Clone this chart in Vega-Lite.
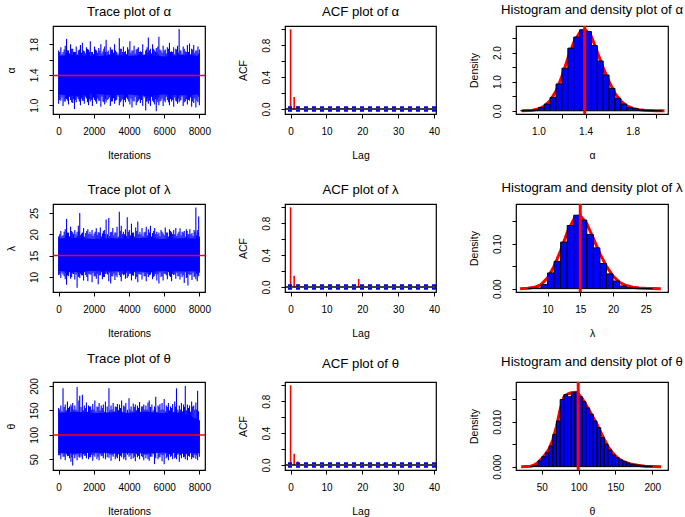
{
  "$schema": "https://vega.github.io/schema/vega-lite/v6.json",
  "padding": {"left": 5, "top": 1, "right": 5, "bottom": 5},
  "background": "white",
  "bounds": "flush",
  "columns": 3,
  "spacing": {"row": 90, "column": 80},
  "config": {
    "font": "Liberation Sans",
    "view": {"stroke": "black", "strokeWidth": 1.2},
    "title": {"fontSize": 13.2, "fontWeight": "normal", "anchor": "middle", "frame": "group", "baseline": "bottom", "offset": 7, "color": "black"},
    "axis": {"domain": false, "grid": false, "tickColor": "black", "tickSize": 4, "tickWidth": 1, "labelColor": "black", "labelFontSize": 10, "titleFontSize": 10.5, "titleFontWeight": "normal", "titleColor": "black", "labelFlush": false, "labelOverlap": false},
    "axisX": {"labelPadding": 8, "titlePadding": 14},
    "axisY": {"labelAngle": -90, "labelAlign": "center", "labelBaseline": "bottom", "labelPadding": 10, "titlePadding": 13}
  },
  "datasets": {
    "one": [{"k": 1}],
    "coreA": [{"it":0,"lo":1.14,"hi":1.65},{"it":1000,"lo":1.12,"hi":1.66},{"it":2000,"lo":1.15,"hi":1.64},{"it":3000,"lo":1.13,"hi":1.66},{"it":4000,"lo":1.14,"hi":1.65},{"it":5000,"lo":1.12,"hi":1.66},{"it":6000,"lo":1.14,"hi":1.64},{"it":7000,"lo":1.13,"hi":1.66},{"it":8000,"lo":1.14,"hi":1.65}],
    "spikeA": [
      {"it":0,"lo":1.02,"hi":1.72},{"it":125,"lo":1.06,"hi":1.76},{"it":250,"lo":0.99,"hi":1.70},{"it":375,"lo":1.05,"hi":1.78},{"it":450,"lo":1.08,"hi":1.87},{"it":560,"lo":1.01,"hi":1.72},{"it":680,"lo":1.07,"hi":1.80},{"it":800,"lo":1.03,"hi":1.74},{"it":900,"lo":0.95,"hi":1.70},{"it":1000,"lo":1.04,"hi":1.77},{"it":1120,"lo":1.08,"hi":1.72},{"it":1240,"lo":1.00,"hi":1.79},{"it":1350,"lo":1.06,"hi":1.82},{"it":1460,"lo":1.02,"hi":1.71},{"it":1580,"lo":1.09,"hi":1.76},{"it":1700,"lo":1.00,"hi":1.73},{"it":1800,"lo":1.05,"hi":1.84},{"it":1920,"lo":0.99,"hi":1.70},{"it":2040,"lo":1.07,"hi":1.77},{"it":2160,"lo":1.02,"hi":1.72},{"it":2280,"lo":1.06,"hi":1.75},{"it":2400,"lo":0.98,"hi":1.80},{"it":2520,"lo":1.05,"hi":1.71},{"it":2620,"lo":1.01,"hi":1.77},{"it":2700,"lo":1.04,"hi":1.86},{"it":2820,"lo":1.08,"hi":1.72},{"it":2940,"lo":0.99,"hi":1.76},{"it":3060,"lo":1.05,"hi":1.73},{"it":3180,"lo":1.02,"hi":1.80},{"it":3300,"lo":1.07,"hi":1.70},{"it":3450,"lo":1.00,"hi":1.88},{"it":3560,"lo":1.06,"hi":1.74},{"it":3680,"lo":0.98,"hi":1.77},{"it":3800,"lo":1.04,"hi":1.71},{"it":3920,"lo":1.08,"hi":1.76},{"it":4050,"lo":1.01,"hi":1.84},{"it":4170,"lo":0.97,"hi":1.72},{"it":4290,"lo":1.05,"hi":1.78},{"it":4410,"lo":1.00,"hi":1.73},{"it":4530,"lo":1.06,"hi":1.76},{"it":4650,"lo":1.03,"hi":1.71},{"it":4780,"lo":0.99,"hi":1.80},{"it":4950,"lo":0.93,"hi":1.72},{"it":5030,"lo":1.05,"hi":1.76},{"it":5100,"lo":1.02,"hi":1.89},{"it":5220,"lo":0.99,"hi":1.74},{"it":5340,"lo":1.06,"hi":1.80},{"it":5460,"lo":1.01,"hi":1.72},{"it":5550,"lo":0.92,"hi":1.75},{"it":5640,"lo":1.04,"hi":1.77},{"it":5700,"lo":1.00,"hi":1.90},{"it":5820,"lo":1.06,"hi":1.72},{"it":5940,"lo":0.99,"hi":1.78},{"it":6060,"lo":1.04,"hi":1.73},{"it":6180,"lo":1.07,"hi":1.76},{"it":6300,"lo":1.00,"hi":1.82},{"it":6420,"lo":1.05,"hi":1.71},{"it":6540,"lo":0.98,"hi":1.76},{"it":6660,"lo":1.06,"hi":1.74},{"it":6760,"lo":1.02,"hi":1.78},{"it":6850,"lo":1.04,"hi":2.00},{"it":6950,"lo":1.07,"hi":1.72},{"it":7080,"lo":0.99,"hi":1.77},{"it":7200,"lo":1.05,"hi":1.71},{"it":7320,"lo":1.01,"hi":1.79},{"it":7440,"lo":1.06,"hi":1.81},{"it":7560,"lo":0.98,"hi":1.74},{"it":7680,"lo":1.03,"hi":1.79},{"it":7800,"lo":0.97,"hi":1.72},{"it":7920,"lo":1.04,"hi":1.77},{"it":8000,"lo":1.00,"hi":1.73},
      {"it":60,"lo":1.07,"hi":1.70},{"it":190,"lo":1.10,"hi":1.67},{"it":315,"lo":1.05,"hi":1.73},{"it":410,"lo":1.09,"hi":1.69},{"it":505,"lo":1.06,"hi":1.72},{"it":620,"lo":1.11,"hi":1.68},{"it":740,"lo":1.04,"hi":1.74},{"it":850,"lo":1.08,"hi":1.70},{"it":950,"lo":1.07,"hi":1.70},{"it":1060,"lo":1.10,"hi":1.67},{"it":1180,"lo":1.05,"hi":1.73},{"it":1295,"lo":1.09,"hi":1.69},{"it":1405,"lo":1.06,"hi":1.72},{"it":1520,"lo":1.11,"hi":1.68},{"it":1640,"lo":1.04,"hi":1.74},{"it":1750,"lo":1.08,"hi":1.70},{"it":1860,"lo":1.07,"hi":1.70},{"it":1980,"lo":1.10,"hi":1.67},{"it":2100,"lo":1.05,"hi":1.73},{"it":2220,"lo":1.09,"hi":1.69},{"it":2340,"lo":1.06,"hi":1.72},{"it":2460,"lo":1.11,"hi":1.68},{"it":2570,"lo":1.04,"hi":1.74},{"it":2660,"lo":1.08,"hi":1.70},{"it":2760,"lo":1.07,"hi":1.70},{"it":2880,"lo":1.10,"hi":1.67},{"it":3000,"lo":1.05,"hi":1.73},{"it":3120,"lo":1.09,"hi":1.69},{"it":3240,"lo":1.06,"hi":1.72},{"it":3375,"lo":1.11,"hi":1.68},{"it":3505,"lo":1.04,"hi":1.74},{"it":3620,"lo":1.08,"hi":1.70},{"it":3740,"lo":1.07,"hi":1.70},{"it":3860,"lo":1.10,"hi":1.67},{"it":3985,"lo":1.05,"hi":1.73},{"it":4110,"lo":1.09,"hi":1.69},{"it":4230,"lo":1.06,"hi":1.72},{"it":4350,"lo":1.11,"hi":1.68},{"it":4470,"lo":1.04,"hi":1.74},{"it":4590,"lo":1.08,"hi":1.70},{"it":4715,"lo":1.07,"hi":1.70},{"it":4865,"lo":1.10,"hi":1.67},{"it":4990,"lo":1.05,"hi":1.73},{"it":5065,"lo":1.09,"hi":1.69},{"it":5160,"lo":1.06,"hi":1.72},{"it":5280,"lo":1.11,"hi":1.68},{"it":5400,"lo":1.04,"hi":1.74},{"it":5505,"lo":1.08,"hi":1.70},{"it":5595,"lo":1.07,"hi":1.70},{"it":5670,"lo":1.10,"hi":1.67},{"it":5760,"lo":1.05,"hi":1.73},{"it":5880,"lo":1.09,"hi":1.69},{"it":6000,"lo":1.06,"hi":1.72},{"it":6120,"lo":1.11,"hi":1.68},{"it":6240,"lo":1.04,"hi":1.74},{"it":6360,"lo":1.08,"hi":1.70},{"it":6480,"lo":1.07,"hi":1.70},{"it":6600,"lo":1.10,"hi":1.67},{"it":6710,"lo":1.05,"hi":1.73},{"it":6805,"lo":1.09,"hi":1.69},{"it":6900,"lo":1.06,"hi":1.72},{"it":7015,"lo":1.11,"hi":1.68},{"it":7140,"lo":1.04,"hi":1.74},{"it":7260,"lo":1.08,"hi":1.70},{"it":7380,"lo":1.07,"hi":1.70},{"it":7500,"lo":1.10,"hi":1.67},{"it":7620,"lo":1.05,"hi":1.73},{"it":7740,"lo":1.09,"hi":1.69},{"it":7860,"lo":1.06,"hi":1.72},{"it":7960,"lo":1.11,"hi":1.68}
    ],
    "coreL": [{"it":0,"lo":11.4,"hi":19.0},{"it":1000,"lo":11.2,"hi":19.2},{"it":2000,"lo":11.5,"hi":18.9},{"it":3000,"lo":11.3,"hi":19.1},{"it":4000,"lo":11.4,"hi":19.0},{"it":5000,"lo":11.2,"hi":19.2},{"it":6000,"lo":11.4,"hi":18.9},{"it":7000,"lo":11.3,"hi":19.1},{"it":8000,"lo":11.4,"hi":19.0}],
    "spikeL": [
      {"it":0,"lo":10.5,"hi":19.5},{"it":125,"lo":9.8,"hi":20.8},{"it":250,"lo":10.6,"hi":19.8},{"it":375,"lo":9.5,"hi":21.2},{"it":450,"lo":8.2,"hi":23.6},{"it":560,"lo":10.2,"hi":20.4},{"it":680,"lo":9.6,"hi":21.8},{"it":800,"lo":10.8,"hi":20.5},{"it":920,"lo":9.4,"hi":21.0},{"it":1050,"lo":7.5,"hi":20.6},{"it":1120,"lo":10.0,"hi":22.0},{"it":1200,"lo":9.8,"hi":25.0},{"it":1300,"lo":10.4,"hi":20.2},{"it":1420,"lo":9.2,"hi":21.5},{"it":1540,"lo":10.5,"hi":20.3},{"it":1660,"lo":9.0,"hi":21.2},{"it":1780,"lo":10.6,"hi":20.6},{"it":1900,"lo":8.8,"hi":21.0},{"it":2020,"lo":10.2,"hi":20.2},{"it":2140,"lo":9.6,"hi":21.4},{"it":2250,"lo":8.3,"hi":20.5},{"it":2370,"lo":10.4,"hi":21.6},{"it":2490,"lo":9.5,"hi":20.2},{"it":2600,"lo":10.0,"hi":21.0},{"it":2700,"lo":10.8,"hi":23.5},{"it":2850,"lo":9.0,"hi":23.8},{"it":2960,"lo":8.5,"hi":20.5},{"it":3080,"lo":10.2,"hi":21.5},{"it":3200,"lo":9.3,"hi":20.4},{"it":3320,"lo":10.0,"hi":21.8},{"it":3450,"lo":10.5,"hi":25.3},{"it":3560,"lo":9.0,"hi":22.0},{"it":3680,"lo":10.4,"hi":20.6},{"it":3800,"lo":9.6,"hi":21.2},{"it":3900,"lo":9.8,"hi":24.0},{"it":4020,"lo":10.8,"hi":21.0},{"it":4140,"lo":9.2,"hi":22.5},{"it":4260,"lo":10.3,"hi":20.4},{"it":4380,"lo":9.5,"hi":21.6},{"it":4500,"lo":8.8,"hi":23.0},{"it":4620,"lo":10.6,"hi":20.6},{"it":4740,"lo":9.4,"hi":21.5},{"it":4860,"lo":10.2,"hi":20.4},{"it":4980,"lo":9.0,"hi":21.8},{"it":5100,"lo":10.0,"hi":21.2},{"it":5220,"lo":10.6,"hi":22.0},{"it":5340,"lo":9.5,"hi":20.3},{"it":5460,"lo":10.3,"hi":21.5},{"it":5580,"lo":9.2,"hi":20.6},{"it":5700,"lo":8.5,"hi":20.4},{"it":5820,"lo":10.0,"hi":21.0},{"it":5940,"lo":9.2,"hi":20.2},{"it":6060,"lo":10.7,"hi":21.6},{"it":6180,"lo":9.5,"hi":20.4},{"it":6300,"lo":10.3,"hi":21.2},{"it":6420,"lo":9.0,"hi":20.5},{"it":6540,"lo":10.5,"hi":21.0},{"it":6660,"lo":9.6,"hi":21.5},{"it":6780,"lo":10.2,"hi":20.2},{"it":6900,"lo":9.4,"hi":21.4},{"it":7020,"lo":10.0,"hi":20.6},{"it":7140,"lo":8.6,"hi":20.8},{"it":7260,"lo":9.8,"hi":21.2},{"it":7350,"lo":8.0,"hi":20.0},{"it":7460,"lo":10.4,"hi":21.2},{"it":7580,"lo":9.3,"hi":20.3},{"it":7700,"lo":10.0,"hi":21.0},{"it":7800,"lo":9.5,"hi":26.3},{"it":7880,"lo":9.0,"hi":21.0},{"it":7960,"lo":10.2,"hi":24.2},{"it":8000,"lo":11.0,"hi":19.5},
      {"it":60,"lo":10.6,"hi":20.0},{"it":190,"lo":11.0,"hi":19.6},{"it":315,"lo":10.2,"hi":20.6},{"it":410,"lo":10.8,"hi":19.8},{"it":505,"lo":10.4,"hi":20.4},{"it":620,"lo":11.1,"hi":19.5},{"it":740,"lo":10.0,"hi":20.8},{"it":850,"lo":10.7,"hi":20.1},{"it":985,"lo":10.6,"hi":20.0},{"it":1085,"lo":11.0,"hi":19.6},{"it":1160,"lo":10.2,"hi":20.6},{"it":1250,"lo":10.8,"hi":19.8},{"it":1360,"lo":10.4,"hi":20.4},{"it":1480,"lo":11.1,"hi":19.5},{"it":1600,"lo":10.0,"hi":20.8},{"it":1720,"lo":10.7,"hi":20.1},{"it":1840,"lo":10.6,"hi":20.0},{"it":1960,"lo":11.0,"hi":19.6},{"it":2080,"lo":10.2,"hi":20.6},{"it":2195,"lo":10.8,"hi":19.8},{"it":2310,"lo":10.4,"hi":20.4},{"it":2430,"lo":11.1,"hi":19.5},{"it":2545,"lo":10.0,"hi":20.8},{"it":2650,"lo":10.7,"hi":20.1},{"it":2775,"lo":10.6,"hi":20.0},{"it":2905,"lo":11.0,"hi":19.6},{"it":3020,"lo":10.2,"hi":20.6},{"it":3140,"lo":10.8,"hi":19.8},{"it":3260,"lo":10.4,"hi":20.4},{"it":3385,"lo":11.1,"hi":19.5},{"it":3505,"lo":10.0,"hi":20.8},{"it":3620,"lo":10.7,"hi":20.1},{"it":3740,"lo":10.6,"hi":20.0},{"it":3850,"lo":11.0,"hi":19.6},{"it":3960,"lo":10.2,"hi":20.6},{"it":4080,"lo":10.8,"hi":19.8},{"it":4200,"lo":10.4,"hi":20.4},{"it":4320,"lo":11.1,"hi":19.5},{"it":4440,"lo":10.0,"hi":20.8},{"it":4560,"lo":10.7,"hi":20.1},{"it":4680,"lo":10.6,"hi":20.0},{"it":4800,"lo":11.0,"hi":19.6},{"it":4920,"lo":10.2,"hi":20.6},{"it":5040,"lo":10.8,"hi":19.8},{"it":5160,"lo":10.4,"hi":20.4},{"it":5280,"lo":11.1,"hi":19.5},{"it":5400,"lo":10.0,"hi":20.8},{"it":5520,"lo":10.7,"hi":20.1},{"it":5640,"lo":10.6,"hi":20.0},{"it":5760,"lo":11.0,"hi":19.6},{"it":5880,"lo":10.2,"hi":20.6},{"it":6000,"lo":10.8,"hi":19.8},{"it":6120,"lo":10.4,"hi":20.4},{"it":6240,"lo":11.1,"hi":19.5},{"it":6360,"lo":10.0,"hi":20.8},{"it":6480,"lo":10.7,"hi":20.1},{"it":6600,"lo":10.6,"hi":20.0},{"it":6720,"lo":11.0,"hi":19.6},{"it":6840,"lo":10.2,"hi":20.6},{"it":6960,"lo":10.8,"hi":19.8},{"it":7080,"lo":10.4,"hi":20.4},{"it":7200,"lo":11.1,"hi":19.5},{"it":7305,"lo":10.0,"hi":20.8},{"it":7405,"lo":10.7,"hi":20.1},{"it":7520,"lo":10.6,"hi":20.0},{"it":7640,"lo":11.0,"hi":19.6},{"it":7750,"lo":10.2,"hi":20.6},{"it":7840,"lo":10.8,"hi":19.8},{"it":7920,"lo":10.4,"hi":20.4}
    ],
    "coreT": [{"it":0,"lo":63,"hi":145},{"it":1000,"lo":62,"hi":147},{"it":2000,"lo":64,"hi":144},{"it":3000,"lo":62,"hi":146},{"it":4000,"lo":63,"hi":145},{"it":5000,"lo":62,"hi":147},{"it":6000,"lo":64,"hi":144},{"it":7000,"lo":62,"hi":146},{"it":8000,"lo":63,"hi":130}],
    "spikeT": [
      {"it":0,"lo":58,"hi":155},{"it":125,"lo":50,"hi":160},{"it":250,"lo":55,"hi":195},{"it":375,"lo":48,"hi":162},{"it":500,"lo":56,"hi":168},{"it":620,"lo":52,"hi":158},{"it":700,"lo":45,"hi":162},{"it":800,"lo":37,"hi":165},{"it":920,"lo":52,"hi":160},{"it":1050,"lo":48,"hi":198},{"it":1150,"lo":55,"hi":170},{"it":1200,"lo":53,"hi":180},{"it":1350,"lo":50,"hi":182},{"it":1460,"lo":57,"hi":160},{"it":1580,"lo":52,"hi":166},{"it":1700,"lo":50,"hi":160},{"it":1820,"lo":54,"hi":158},{"it":1940,"lo":47,"hi":163},{"it":2060,"lo":55,"hi":170},{"it":2180,"lo":50,"hi":158},{"it":2300,"lo":48,"hi":165},{"it":2420,"lo":56,"hi":160},{"it":2540,"lo":52,"hi":162},{"it":2660,"lo":50,"hi":168},{"it":2860,"lo":53,"hi":195},{"it":2980,"lo":47,"hi":160},{"it":3100,"lo":55,"hi":165},{"it":3220,"lo":50,"hi":158},{"it":3340,"lo":52,"hi":163},{"it":3460,"lo":46,"hi":162},{"it":3580,"lo":54,"hi":170},{"it":3700,"lo":50,"hi":160},{"it":3820,"lo":48,"hi":165},{"it":4000,"lo":55,"hi":175},{"it":4120,"lo":50,"hi":158},{"it":4240,"lo":52,"hi":164},{"it":4360,"lo":46,"hi":162},{"it":4480,"lo":54,"hi":160},{"it":4600,"lo":50,"hi":167},{"it":4720,"lo":56,"hi":158},{"it":4840,"lo":48,"hi":162},{"it":4960,"lo":52,"hi":160},{"it":5080,"lo":50,"hi":166},{"it":5150,"lo":47,"hi":170},{"it":5300,"lo":55,"hi":162},{"it":5450,"lo":40,"hi":158},{"it":5520,"lo":52,"hi":178},{"it":5650,"lo":50,"hi":160},{"it":5760,"lo":54,"hi":163},{"it":5880,"lo":46,"hi":165},{"it":6000,"lo":40,"hi":173},{"it":6120,"lo":52,"hi":160},{"it":6240,"lo":48,"hi":165},{"it":6360,"lo":55,"hi":158},{"it":6480,"lo":50,"hi":163},{"it":6600,"lo":52,"hi":168},{"it":6700,"lo":50,"hi":195},{"it":6860,"lo":45,"hi":160},{"it":6980,"lo":52,"hi":165},{"it":7100,"lo":54,"hi":162},{"it":7200,"lo":50,"hi":200},{"it":7320,"lo":48,"hi":162},{"it":7440,"lo":55,"hi":160},{"it":7560,"lo":50,"hi":168},{"it":7680,"lo":53,"hi":160},{"it":7800,"lo":51,"hi":166},{"it":7900,"lo":48,"hi":190},{"it":8000,"lo":55,"hi":130},
      {"it":60,"lo":58,"hi":152},{"it":190,"lo":62,"hi":148},{"it":315,"lo":55,"hi":157},{"it":440,"lo":60,"hi":150},{"it":560,"lo":57,"hi":155},{"it":660,"lo":63,"hi":147},{"it":750,"lo":54,"hi":158},{"it":860,"lo":59,"hi":151},{"it":985,"lo":58,"hi":152},{"it":1100,"lo":62,"hi":148},{"it":1275,"lo":55,"hi":157},{"it":1405,"lo":60,"hi":150},{"it":1520,"lo":57,"hi":155},{"it":1640,"lo":63,"hi":147},{"it":1760,"lo":54,"hi":158},{"it":1880,"lo":59,"hi":151},{"it":2000,"lo":58,"hi":152},{"it":2120,"lo":62,"hi":148},{"it":2240,"lo":55,"hi":157},{"it":2360,"lo":60,"hi":150},{"it":2480,"lo":57,"hi":155},{"it":2600,"lo":63,"hi":147},{"it":2760,"lo":54,"hi":158},{"it":2920,"lo":59,"hi":151},{"it":3040,"lo":58,"hi":152},{"it":3160,"lo":62,"hi":148},{"it":3280,"lo":55,"hi":157},{"it":3400,"lo":60,"hi":150},{"it":3520,"lo":57,"hi":155},{"it":3640,"lo":63,"hi":147},{"it":3760,"lo":54,"hi":158},{"it":3910,"lo":59,"hi":151},{"it":4060,"lo":58,"hi":152},{"it":4180,"lo":62,"hi":148},{"it":4300,"lo":55,"hi":157},{"it":4420,"lo":60,"hi":150},{"it":4540,"lo":57,"hi":155},{"it":4660,"lo":63,"hi":147},{"it":4780,"lo":54,"hi":158},{"it":4900,"lo":59,"hi":151},{"it":5020,"lo":58,"hi":152},{"it":5115,"lo":62,"hi":148},{"it":5225,"lo":55,"hi":157},{"it":5375,"lo":60,"hi":150},{"it":5485,"lo":57,"hi":155},{"it":5585,"lo":63,"hi":147},{"it":5705,"lo":54,"hi":158},{"it":5820,"lo":59,"hi":151},{"it":5940,"lo":58,"hi":152},{"it":6060,"lo":62,"hi":148},{"it":6180,"lo":55,"hi":157},{"it":6300,"lo":60,"hi":150},{"it":6420,"lo":57,"hi":155},{"it":6540,"lo":63,"hi":147},{"it":6650,"lo":54,"hi":158},{"it":6780,"lo":59,"hi":151},{"it":6920,"lo":58,"hi":152},{"it":7040,"lo":62,"hi":148},{"it":7150,"lo":55,"hi":157},{"it":7260,"lo":60,"hi":150},{"it":7380,"lo":57,"hi":155},{"it":7500,"lo":63,"hi":147},{"it":7620,"lo":54,"hi":158},{"it":7740,"lo":59,"hi":151},{"it":7850,"lo":58,"hi":152},{"it":7950,"lo":62,"hi":148}
    ],
    "acfA": [
      {"lag":0,"acf":1},{"lag":1,"acf":0.15},{"lag":2,"acf":0.035},{"lag":3,"acf":0.005},{"lag":4,"acf":-0.005},{"lag":5,"acf":0.003},{"lag":6,"acf":-0.004},{"lag":7,"acf":0.002},{"lag":8,"acf":0.006},{"lag":9,"acf":-0.003},{"lag":10,"acf":0.004},{"lag":11,"acf":-0.008},{"lag":12,"acf":-0.01},{"lag":13,"acf":0.002},{"lag":14,"acf":0.005},{"lag":15,"acf":0.01},{"lag":16,"acf":0.018},{"lag":17,"acf":0.004},{"lag":18,"acf":-0.003},{"lag":19,"acf":0.002},{"lag":20,"acf":-0.005},{"lag":21,"acf":0.003},{"lag":22,"acf":0.006},{"lag":23,"acf":-0.004},{"lag":24,"acf":0.002},{"lag":25,"acf":-0.002},{"lag":26,"acf":0.004},{"lag":27,"acf":0.003},{"lag":28,"acf":-0.005},{"lag":29,"acf":0.006},{"lag":30,"acf":0.002},{"lag":31,"acf":-0.003},{"lag":32,"acf":0.004},{"lag":33,"acf":-0.002},{"lag":34,"acf":0.005},{"lag":35,"acf":-0.004},{"lag":36,"acf":0.003},{"lag":37,"acf":-0.002},{"lag":38,"acf":0.002},{"lag":39,"acf":-0.008}
    ],
    "acfL": [
      {"lag":0,"acf":1},{"lag":1,"acf":0.14},{"lag":2,"acf":0.03},{"lag":3,"acf":0.005},{"lag":4,"acf":-0.004},{"lag":5,"acf":0.003},{"lag":6,"acf":0.002},{"lag":7,"acf":-0.005},{"lag":8,"acf":0.004},{"lag":9,"acf":0.002},{"lag":10,"acf":-0.003},{"lag":11,"acf":0.005},{"lag":12,"acf":0.002},{"lag":13,"acf":-0.004},{"lag":14,"acf":0.003},{"lag":15,"acf":0.002},{"lag":16,"acf":-0.002},{"lag":17,"acf":0.004},{"lag":18,"acf":0.003},{"lag":19,"acf":0.1},{"lag":20,"acf":0.005},{"lag":21,"acf":-0.003},{"lag":22,"acf":0.002},{"lag":23,"acf":0.004},{"lag":24,"acf":-0.002},{"lag":25,"acf":0.003},{"lag":26,"acf":0.002},{"lag":27,"acf":-0.004},{"lag":28,"acf":0.003},{"lag":29,"acf":0.002},{"lag":30,"acf":-0.003},{"lag":31,"acf":0.004},{"lag":32,"acf":0.002},{"lag":33,"acf":-0.002},{"lag":34,"acf":0.003},{"lag":35,"acf":-0.012},{"lag":36,"acf":0.002},{"lag":37,"acf":0.003},{"lag":38,"acf":-0.002},{"lag":39,"acf":0.002}
    ],
    "acfT": [
      {"lag":0,"acf":1},{"lag":1,"acf":0.14},{"lag":2,"acf":0.045},{"lag":3,"acf":0.008},{"lag":4,"acf":-0.004},{"lag":5,"acf":0.003},{"lag":6,"acf":-0.005},{"lag":7,"acf":0.002},{"lag":8,"acf":0.004},{"lag":9,"acf":-0.003},{"lag":10,"acf":0.002},{"lag":11,"acf":0.003},{"lag":12,"acf":-0.002},{"lag":13,"acf":0.004},{"lag":14,"acf":0.002},{"lag":15,"acf":-0.003},{"lag":16,"acf":0.003},{"lag":17,"acf":0.002},{"lag":18,"acf":-0.002},{"lag":19,"acf":0.004},{"lag":20,"acf":0.002},{"lag":21,"acf":-0.003},{"lag":22,"acf":0.003},{"lag":23,"acf":0.006},{"lag":24,"acf":-0.002},{"lag":25,"acf":0.004},{"lag":26,"acf":0.02},{"lag":27,"acf":0.003},{"lag":28,"acf":-0.002},{"lag":29,"acf":0.004},{"lag":30,"acf":0.002},{"lag":31,"acf":-0.006},{"lag":32,"acf":0.003},{"lag":33,"acf":0.002},{"lag":34,"acf":-0.003},{"lag":35,"acf":0.004},{"lag":36,"acf":0.002},{"lag":37,"acf":-0.002},{"lag":38,"acf":0.003},{"lag":39,"acf":0.002}
    ],
    "histA": [
      {"x0":0.85,"x1":0.90,"d":0.004},{"x0":0.90,"x1":0.95,"d":0.01},{"x0":0.95,"x1":1.00,"d":0.03},{"x0":1.00,"x1":1.05,"d":0.11},{"x0":1.05,"x1":1.10,"d":0.23},{"x0":1.10,"x1":1.15,"d":0.46},{"x0":1.15,"x1":1.20,"d":0.92},{"x0":1.20,"x1":1.25,"d":1.46},{"x0":1.25,"x1":1.30,"d":2.15},{"x0":1.30,"x1":1.35,"d":2.53},{"x0":1.35,"x1":1.40,"d":2.78},{"x0":1.40,"x1":1.45,"d":2.72},{"x0":1.45,"x1":1.50,"d":2.24},{"x0":1.50,"x1":1.55,"d":1.71},{"x0":1.55,"x1":1.60,"d":1.23},{"x0":1.60,"x1":1.65,"d":0.77},{"x0":1.65,"x1":1.70,"d":0.43},{"x0":1.70,"x1":1.75,"d":0.23},{"x0":1.75,"x1":1.80,"d":0.11},{"x0":1.80,"x1":1.85,"d":0.07},{"x0":1.85,"x1":1.90,"d":0.03},{"x0":1.90,"x1":1.95,"d":0.015},{"x0":1.95,"x1":2.00,"d":0.006},{"x0":2.00,"x1":2.05,"d":0.003}
    ],
    "densA": [
      {"x":0.86,"d":0.0},{"x":0.95,"d":0.02},{"x":1.0,"d":0.06},{"x":1.05,"d":0.16},{"x":1.1,"d":0.35},{"x":1.15,"d":0.68},{"x":1.2,"d":1.18},{"x":1.25,"d":1.8},{"x":1.3,"d":2.35},{"x":1.35,"d":2.68},{"x":1.4,"d":2.78},{"x":1.45,"d":2.55},{"x":1.5,"d":2.02},{"x":1.55,"d":1.47},{"x":1.6,"d":1.0},{"x":1.65,"d":0.6},{"x":1.7,"d":0.33},{"x":1.75,"d":0.17},{"x":1.8,"d":0.08},{"x":1.85,"d":0.04},{"x":1.9,"d":0.02},{"x":2.0,"d":0.005},{"x":2.07,"d":0.0}
    ],
    "histL": [
      {"x0":7,"x1":8,"d":0.0008},{"x0":8,"x1":9,"d":0.0015},{"x0":9,"x1":10,"d":0.009},{"x0":10,"x1":11,"d":0.035},{"x0":11,"x1":12,"d":0.061},{"x0":12,"x1":13,"d":0.104},{"x0":13,"x1":14,"d":0.141},{"x0":14,"x1":15,"d":0.164},{"x0":15,"x1":16,"d":0.153},{"x0":16,"x1":17,"d":0.121},{"x0":17,"x1":18,"d":0.091},{"x0":18,"x1":19,"d":0.056},{"x0":19,"x1":20,"d":0.033},{"x0":20,"x1":21,"d":0.017},{"x0":21,"x1":22,"d":0.006},{"x0":22,"x1":23,"d":0.002},{"x0":23,"x1":24,"d":0.001},{"x0":24,"x1":25,"d":0.0005},{"x0":25,"x1":26,"d":0.0003}
    ],
    "densL": [
      {"x":5.8,"d":0.0},{"x":7,"d":0.001},{"x":8,"d":0.003},{"x":9,"d":0.009},{"x":10,"d":0.024},{"x":11,"d":0.05},{"x":12,"d":0.085},{"x":13,"d":0.125},{"x":14,"d":0.155},{"x":15,"d":0.163},{"x":16,"d":0.145},{"x":17,"d":0.112},{"x":18,"d":0.078},{"x":19,"d":0.05},{"x":20,"d":0.028},{"x":21,"d":0.014},{"x":22,"d":0.007},{"x":23,"d":0.003},{"x":24,"d":0.0015},{"x":25,"d":0.0007},{"x":27.3,"d":0.0}
    ],
    "histT": [
      {"x0":35,"x1":40,"d":0.0001},{"x0":40,"x1":45,"d":0.0003},{"x0":45,"x1":50,"d":0.0013},{"x0":50,"x1":55,"d":0.0022},{"x0":55,"x1":60,"d":0.0031},{"x0":60,"x1":65,"d":0.0046},{"x0":65,"x1":70,"d":0.0072},{"x0":70,"x1":75,"d":0.0102},{"x0":75,"x1":80,"d":0.0150},{"x0":80,"x1":85,"d":0.0161},{"x0":85,"x1":90,"d":0.0156},{"x0":90,"x1":95,"d":0.0165},{"x0":95,"x1":100,"d":0.0167},{"x0":100,"x1":105,"d":0.0156},{"x0":105,"x1":110,"d":0.0145},{"x0":110,"x1":115,"d":0.0131},{"x0":115,"x1":120,"d":0.0117},{"x0":120,"x1":125,"d":0.0102},{"x0":125,"x1":130,"d":0.0087},{"x0":130,"x1":135,"d":0.0065},{"x0":135,"x1":140,"d":0.0050},{"x0":140,"x1":145,"d":0.0037},{"x0":145,"x1":150,"d":0.0026},{"x0":150,"x1":155,"d":0.0020},{"x0":155,"x1":160,"d":0.0015},{"x0":160,"x1":165,"d":0.0011},{"x0":165,"x1":170,"d":0.0008},{"x0":170,"x1":175,"d":0.0005},{"x0":175,"x1":180,"d":0.0004},{"x0":180,"x1":185,"d":0.0003},{"x0":185,"x1":190,"d":0.0002},{"x0":190,"x1":195,"d":0.0001},{"x0":195,"x1":200,"d":0.0001}
    ],
    "densT": [
      {"x":22,"d":0.0},{"x":35,"d":0.0001},{"x":40,"d":0.0004},{"x":45,"d":0.0009},{"x":50,"d":0.0018},{"x":55,"d":0.0028},{"x":60,"d":0.0040},{"x":65,"d":0.0060},{"x":70,"d":0.0090},{"x":75,"d":0.0128},{"x":80,"d":0.0155},{"x":85,"d":0.0162},{"x":90,"d":0.0165},{"x":95,"d":0.0166},{"x":100,"d":0.0162},{"x":105,"d":0.0152},{"x":110,"d":0.0138},{"x":115,"d":0.0124},{"x":120,"d":0.0109},{"x":125,"d":0.0094},{"x":130,"d":0.0077},{"x":135,"d":0.0060},{"x":140,"d":0.0045},{"x":145,"d":0.0033},{"x":150,"d":0.0024},{"x":155,"d":0.0017},{"x":160,"d":0.0012},{"x":165,"d":0.0009},{"x":170,"d":0.0006},{"x":180,"d":0.0003},{"x":190,"d":0.0001},{"x":212,"d":0.0}
    ]
  },
  "concat": [
    {
      "width": 152, "height": 88,
      "title": {"text": "Trace plot of α"},
      "layer": [
        {"data": {"name": "coreA"}, "mark": {"type": "area", "color": "#0000FF", "clip": true},
         "encoding": {
           "x": {"field": "it", "type": "quantitative", "scale": {"domain": [-320, 8320], "nice": false, "zero": false}, "axis": {"values": [0,2000,4000,6000,8000], "format": "d", "title": "Iterations", "labelOverlap": false}},
           "y": {"field": "lo", "type": "quantitative", "scale": {"domain": [0.885, 2.04], "nice": false, "zero": false}, "axis": {"values": [1,1.2,1.4,1.6,1.8], "labelOverlap": false, "labelExpr": "(datum.value == 1 || datum.value == 1.4 || datum.value == 1.8) ? format(datum.value, '.1f') : ''", "title": "α"}},
           "y2": {"field": "hi"}}},
        {"data": {"name": "spikeA"}, "mark": {"type": "rule", "color": "#0000FF", "strokeWidth": 1.1},
         "encoding": {
           "x": {"field": "it", "type": "quantitative", "axis": {"values": [0,2000,4000,6000,8000], "format": "d", "title": "Iterations", "labelOverlap": false}},
           "y": {"field": "lo", "type": "quantitative", "axis": {"values": [1,1.2,1.4,1.6,1.8], "labelOverlap": false, "labelExpr": "(datum.value == 1 || datum.value == 1.4 || datum.value == 1.8) ? format(datum.value, '.1f') : ''", "title": "α"}},
           "y2": {"field": "hi"}}},
        {"data": {"name": "one"}, "mark": {"type": "rule", "color": "#FF0000", "strokeWidth": 1.5},
         "encoding": {"y": {"datum": 1.39, "type": "quantitative", "axis": {"values": [1,1.2,1.4,1.6,1.8], "labelOverlap": false, "labelExpr": "(datum.value == 1 || datum.value == 1.4 || datum.value == 1.8) ? format(datum.value, '.1f') : ''", "title": "α"}}}}
      ]
    },
    {
      "width": 151, "height": 88,
      "title": {"text": "ACF plot of α"},
      "layer": [
        {"data": {"name": "acfA"}, "mark": {"type": "rule", "color": "#FF0000", "strokeWidth": 1.6},
         "encoding": {
           "x": {"field": "lag", "type": "quantitative", "scale": {"domain": [-1.56, 40.56], "nice": false, "zero": false}, "axis": {"values": [0,10,20,30,40], "title": "Lag", "labelOverlap": false}},
           "y": {"field": "acf", "type": "quantitative", "scale": {"domain": [-0.063, 1.041], "nice": false, "zero": false}, "axis": {"values": [0,0.2,0.4,0.6,0.8,1], "labelOverlap": false, "labelExpr": "(datum.value == 0 || datum.value == 0.4 || datum.value == 0.8) ? format(datum.value, '.1f') : ''", "title": "ACF"}},
           "y2": {"datum": 0}}},
        {"data": {"name": "one"}, "mark": {"type": "rule", "color": "black", "strokeWidth": 1.3}, "encoding": {"y": {"datum": 0, "type": "quantitative", "axis": {"values": [0,0.2,0.4,0.6,0.8,1], "labelOverlap": false, "labelExpr": "(datum.value == 0 || datum.value == 0.4 || datum.value == 0.8) ? format(datum.value, '.1f') : ''", "title": "ACF"}}}},
        {"data": {"name": "one"}, "mark": {"type": "rule", "color": "#0000FF", "strokeWidth": 2, "strokeDash": [4, 4]}, "encoding": {"y": {"datum": 0.022, "type": "quantitative", "axis": {"values": [0,0.2,0.4,0.6,0.8,1], "labelOverlap": false, "labelExpr": "(datum.value == 0 || datum.value == 0.4 || datum.value == 0.8) ? format(datum.value, '.1f') : ''", "title": "ACF"}}}},
        {"data": {"name": "one"}, "mark": {"type": "rule", "color": "#0000FF", "strokeWidth": 2, "strokeDash": [4, 4]}, "encoding": {"y": {"datum": -0.022, "type": "quantitative", "axis": {"values": [0,0.2,0.4,0.6,0.8,1], "labelOverlap": false, "labelExpr": "(datum.value == 0 || datum.value == 0.4 || datum.value == 0.8) ? format(datum.value, '.1f') : ''", "title": "ACF"}}}}
      ]
    },
    {
      "width": 152, "height": 88,
      "title": {"text": "Histogram and density plot of α"},
      "layer": [
        {"data": {"name": "densA"}, "mark": {"type": "line", "color": "#FF0000", "strokeWidth": 3},
         "encoding": {
           "x": {"field": "x", "type": "quantitative", "scale": {"domain": [0.81, 2.10], "nice": false, "zero": false}, "axis": {"values": [1,1.2,1.4,1.6,1.8,2], "labelOverlap": false, "labelExpr": "(datum.value == 1 || datum.value == 1.4 || datum.value == 1.8) ? format(datum.value, '.1f') : ''", "title": "α"}},
           "y": {"field": "d", "type": "quantitative", "scale": {"domain": [-0.11, 2.91], "nice": false, "zero": false}, "axis": {"values": [0,0.5,1,1.5,2,2.5], "labelOverlap": false, "labelExpr": "(datum.value == 0 || datum.value == 1 || datum.value == 2) ? format(datum.value, '.1f') : ''", "title": "Density"}}}},
        {"data": {"name": "histA"}, "mark": {"type": "bar", "color": "#0000FF", "stroke": "black", "strokeWidth": 1},
         "encoding": {
           "x": {"field": "x0", "type": "quantitative", "axis": {"values": [1,1.2,1.4,1.6,1.8,2], "labelOverlap": false, "labelExpr": "(datum.value == 1 || datum.value == 1.4 || datum.value == 1.8) ? format(datum.value, '.1f') : ''", "title": "α"}},
           "x2": {"field": "x1"},
           "y": {"field": "d", "type": "quantitative", "axis": {"values": [0,0.5,1,1.5,2,2.5], "labelOverlap": false, "labelExpr": "(datum.value == 0 || datum.value == 1 || datum.value == 2) ? format(datum.value, '.1f') : ''", "title": "Density"}},
           "y2": {"datum": 0}}},
        {"data": {"name": "one"}, "mark": {"type": "rule", "color": "#FF0000", "strokeWidth": 3},
         "encoding": {"x": {"datum": 1.393, "type": "quantitative", "axis": {"values": [1,1.2,1.4,1.6,1.8,2], "labelOverlap": false, "labelExpr": "(datum.value == 1 || datum.value == 1.4 || datum.value == 1.8) ? format(datum.value, '.1f') : ''", "title": "α"}}}}
      ]
    },
    {
      "width": 152, "height": 88,
      "title": {"text": "Trace plot of λ"},
      "layer": [
        {"data": {"name": "coreL"}, "mark": {"type": "area", "color": "#0000FF", "clip": true},
         "encoding": {
           "x": {"field": "it", "type": "quantitative", "scale": {"domain": [-320, 8320], "nice": false, "zero": false}, "axis": {"values": [0,2000,4000,6000,8000], "format": "d", "title": "Iterations", "labelOverlap": false}},
           "y": {"field": "lo", "type": "quantitative", "scale": {"domain": [6.5, 27.1], "nice": false, "zero": false}, "axis": {"values": [10,15,20,25], "format": "d", "labelOverlap": false, "title": "λ"}},
           "y2": {"field": "hi"}}},
        {"data": {"name": "spikeL"}, "mark": {"type": "rule", "color": "#0000FF", "strokeWidth": 1.1},
         "encoding": {
           "x": {"field": "it", "type": "quantitative", "axis": {"values": [0,2000,4000,6000,8000], "format": "d", "title": "Iterations", "labelOverlap": false}},
           "y": {"field": "lo", "type": "quantitative", "axis": {"values": [10,15,20,25], "format": "d", "labelOverlap": false, "title": "λ"}},
           "y2": {"field": "hi"}}},
        {"data": {"name": "one"}, "mark": {"type": "rule", "color": "#FF0000", "strokeWidth": 1.5},
         "encoding": {"y": {"datum": 15.05, "type": "quantitative", "axis": {"values": [10,15,20,25], "format": "d", "labelOverlap": false, "title": "λ"}}}}
      ]
    },
    {
      "width": 151, "height": 88,
      "title": {"text": "ACF plot of λ"},
      "layer": [
        {"data": {"name": "acfL"}, "mark": {"type": "rule", "color": "#FF0000", "strokeWidth": 1.6},
         "encoding": {
           "x": {"field": "lag", "type": "quantitative", "scale": {"domain": [-1.56, 40.56], "nice": false, "zero": false}, "axis": {"values": [0,10,20,30,40], "title": "Lag", "labelOverlap": false}},
           "y": {"field": "acf", "type": "quantitative", "scale": {"domain": [-0.063, 1.041], "nice": false, "zero": false}, "axis": {"values": [0,0.2,0.4,0.6,0.8,1], "labelOverlap": false, "labelExpr": "(datum.value == 0 || datum.value == 0.4 || datum.value == 0.8) ? format(datum.value, '.1f') : ''", "title": "ACF"}},
           "y2": {"datum": 0}}},
        {"data": {"name": "one"}, "mark": {"type": "rule", "color": "black", "strokeWidth": 1.3}, "encoding": {"y": {"datum": 0, "type": "quantitative", "axis": {"values": [0,0.2,0.4,0.6,0.8,1], "labelOverlap": false, "labelExpr": "(datum.value == 0 || datum.value == 0.4 || datum.value == 0.8) ? format(datum.value, '.1f') : ''", "title": "ACF"}}}},
        {"data": {"name": "one"}, "mark": {"type": "rule", "color": "#0000FF", "strokeWidth": 2, "strokeDash": [4, 4]}, "encoding": {"y": {"datum": 0.022, "type": "quantitative", "axis": {"values": [0,0.2,0.4,0.6,0.8,1], "labelOverlap": false, "labelExpr": "(datum.value == 0 || datum.value == 0.4 || datum.value == 0.8) ? format(datum.value, '.1f') : ''", "title": "ACF"}}}},
        {"data": {"name": "one"}, "mark": {"type": "rule", "color": "#0000FF", "strokeWidth": 2, "strokeDash": [4, 4]}, "encoding": {"y": {"datum": -0.022, "type": "quantitative", "axis": {"values": [0,0.2,0.4,0.6,0.8,1], "labelOverlap": false, "labelExpr": "(datum.value == 0 || datum.value == 0.4 || datum.value == 0.8) ? format(datum.value, '.1f') : ''", "title": "ACF"}}}}
      ]
    },
    {
      "width": 152, "height": 88,
      "title": {"text": "Histogram and density plot of λ"},
      "layer": [
        {"data": {"name": "densL"}, "mark": {"type": "line", "color": "#FF0000", "strokeWidth": 3},
         "encoding": {
           "x": {"field": "x", "type": "quantitative", "scale": {"domain": [5.18, 28.4], "nice": false, "zero": false}, "axis": {"values": [10,15,20,25], "format": "d", "labelOverlap": false, "title": "λ"}},
           "y": {"field": "d", "type": "quantitative", "scale": {"domain": [-0.0075, 0.189], "nice": false, "zero": false}, "axis": {"values": [0,0.05,0.1,0.15], "labelOverlap": false, "labelExpr": "(datum.value == 0 || datum.value == 0.1) ? format(datum.value, '.2f') : ''", "title": "Density"}}}},
        {"data": {"name": "histL"}, "mark": {"type": "bar", "color": "#0000FF", "stroke": "black", "strokeWidth": 1},
         "encoding": {
           "x": {"field": "x0", "type": "quantitative", "axis": {"values": [10,15,20,25], "format": "d", "labelOverlap": false, "title": "λ"}},
           "x2": {"field": "x1"},
           "y": {"field": "d", "type": "quantitative", "axis": {"values": [0,0.05,0.1,0.15], "labelOverlap": false, "labelExpr": "(datum.value == 0 || datum.value == 0.1) ? format(datum.value, '.2f') : ''", "title": "Density"}},
           "y2": {"datum": 0}}},
        {"data": {"name": "one"}, "mark": {"type": "rule", "color": "#FF0000", "strokeWidth": 3},
         "encoding": {"x": {"datum": 15.0, "type": "quantitative", "axis": {"values": [10,15,20,25], "format": "d", "labelOverlap": false, "title": "λ"}}}}
      ]
    },
    {
      "width": 152, "height": 88,
      "title": {"text": "Trace plot of θ", "offset": 11},
      "layer": [
        {"data": {"name": "coreT"}, "mark": {"type": "area", "color": "#0000FF", "clip": true},
         "encoding": {
           "x": {"field": "it", "type": "quantitative", "scale": {"domain": [-320, 8320], "nice": false, "zero": false}, "axis": {"values": [0,2000,4000,6000,8000], "format": "d", "title": "Iterations", "labelOverlap": false}},
           "y": {"field": "lo", "type": "quantitative", "scale": {"domain": [28, 208], "nice": false, "zero": false}, "axis": {"values": [50,100,150,200], "format": "d", "labelOverlap": false, "title": "θ"}},
           "y2": {"field": "hi"}}},
        {"data": {"name": "spikeT"}, "mark": {"type": "rule", "color": "#0000FF", "strokeWidth": 1.1},
         "encoding": {
           "x": {"field": "it", "type": "quantitative", "axis": {"values": [0,2000,4000,6000,8000], "format": "d", "title": "Iterations", "labelOverlap": false}},
           "y": {"field": "lo", "type": "quantitative", "axis": {"values": [50,100,150,200], "format": "d", "labelOverlap": false, "title": "θ"}},
           "y2": {"field": "hi"}}},
        {"data": {"name": "one"}, "mark": {"type": "rule", "color": "#FF0000", "strokeWidth": 1.5},
         "encoding": {"y": {"datum": 99.5, "type": "quantitative", "axis": {"values": [50,100,150,200], "format": "d", "labelOverlap": false, "title": "θ"}}}}
      ]
    },
    {
      "width": 151, "height": 88,
      "title": {"text": "ACF plot of θ", "offset": 11},
      "layer": [
        {"data": {"name": "acfT"}, "mark": {"type": "rule", "color": "#FF0000", "strokeWidth": 1.6},
         "encoding": {
           "x": {"field": "lag", "type": "quantitative", "scale": {"domain": [-1.56, 40.56], "nice": false, "zero": false}, "axis": {"values": [0,10,20,30,40], "title": "Lag", "labelOverlap": false}},
           "y": {"field": "acf", "type": "quantitative", "scale": {"domain": [-0.063, 1.041], "nice": false, "zero": false}, "axis": {"values": [0,0.2,0.4,0.6,0.8,1], "labelOverlap": false, "labelExpr": "(datum.value == 0 || datum.value == 0.4 || datum.value == 0.8) ? format(datum.value, '.1f') : ''", "title": "ACF"}},
           "y2": {"datum": 0}}},
        {"data": {"name": "one"}, "mark": {"type": "rule", "color": "black", "strokeWidth": 1.3}, "encoding": {"y": {"datum": 0, "type": "quantitative", "axis": {"values": [0,0.2,0.4,0.6,0.8,1], "labelOverlap": false, "labelExpr": "(datum.value == 0 || datum.value == 0.4 || datum.value == 0.8) ? format(datum.value, '.1f') : ''", "title": "ACF"}}}},
        {"data": {"name": "one"}, "mark": {"type": "rule", "color": "#0000FF", "strokeWidth": 2, "strokeDash": [4, 4]}, "encoding": {"y": {"datum": 0.022, "type": "quantitative", "axis": {"values": [0,0.2,0.4,0.6,0.8,1], "labelOverlap": false, "labelExpr": "(datum.value == 0 || datum.value == 0.4 || datum.value == 0.8) ? format(datum.value, '.1f') : ''", "title": "ACF"}}}},
        {"data": {"name": "one"}, "mark": {"type": "rule", "color": "#0000FF", "strokeWidth": 2, "strokeDash": [4, 4]}, "encoding": {"y": {"datum": -0.022, "type": "quantitative", "axis": {"values": [0,0.2,0.4,0.6,0.8,1], "labelOverlap": false, "labelExpr": "(datum.value == 0 || datum.value == 0.4 || datum.value == 0.8) ? format(datum.value, '.1f') : ''", "title": "ACF"}}}}
      ]
    },
    {
      "width": 152, "height": 88,
      "title": {"text": "Histogram and density plot of θ", "offset": 11},
      "layer": [
        {"data": {"name": "densT"}, "mark": {"type": "line", "color": "#FF0000", "strokeWidth": 3},
         "encoding": {
           "x": {"field": "x", "type": "quantitative", "scale": {"domain": [15, 221.4], "nice": false, "zero": false}, "axis": {"values": [50,100,150,200], "format": "d", "labelOverlap": false, "title": "θ"}},
           "y": {"field": "d", "type": "quantitative", "scale": {"domain": [-0.00075, 0.0189], "nice": false, "zero": false}, "axis": {"values": [0,0.005,0.01,0.015], "labelOverlap": false, "labelExpr": "(datum.value == 0 || datum.value == 0.01) ? format(datum.value, '.3f') : ''", "title": "Density"}}}},
        {"data": {"name": "histT"}, "mark": {"type": "bar", "color": "#0000FF", "stroke": "black", "strokeWidth": 1},
         "encoding": {
           "x": {"field": "x0", "type": "quantitative", "axis": {"values": [50,100,150,200], "format": "d", "labelOverlap": false, "title": "θ"}},
           "x2": {"field": "x1"},
           "y": {"field": "d", "type": "quantitative", "axis": {"values": [0,0.005,0.01,0.015], "labelOverlap": false, "labelExpr": "(datum.value == 0 || datum.value == 0.01) ? format(datum.value, '.3f') : ''", "title": "Density"}},
           "y2": {"datum": 0}}},
        {"data": {"name": "one"}, "mark": {"type": "rule", "color": "#FF0000", "strokeWidth": 3},
         "encoding": {"x": {"datum": 99.5, "type": "quantitative", "axis": {"values": [50,100,150,200], "format": "d", "labelOverlap": false, "title": "θ"}}}}
      ]
    }
  ]
}
